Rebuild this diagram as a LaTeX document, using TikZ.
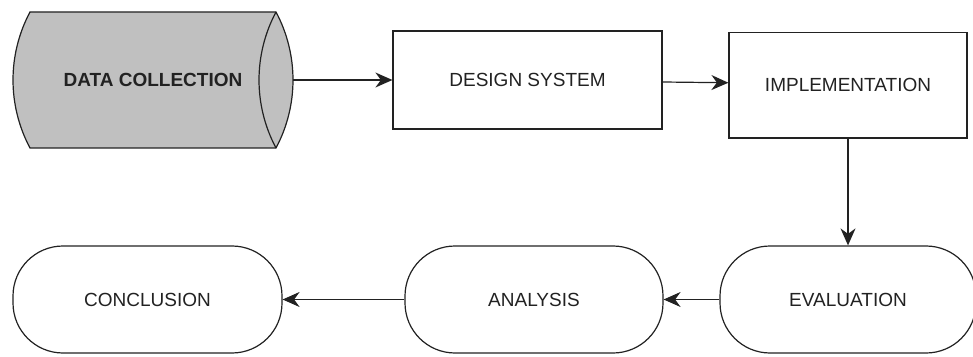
\documentclass[tikz,border=0pt]{standalone}
\usepackage{fontspec}
\setmainfont{Liberation Sans}
\usetikzlibrary{arrows.meta,calc}
\definecolor{linec}{HTML}{222222}
\definecolor{cylfill}{HTML}{C0C0C0}
\begin{document}
\begin{tikzpicture}[x=1pt,y=1pt,
  every node/.style={font=\fontsize{19}{23}\selectfont, text=linec},
  boxnode/.style={draw=linec, line width=1.2pt, fill=white, rectangle, inner sep=0pt},
  termnode/.style={draw=linec, line width=1.2pt, fill=white, rectangle, rounded corners=50pt, inner sep=0pt, minimum height=107pt},
  conn/.style={draw=linec, line width=1.2pt, -{Stealth[length=17pt,width=15pt,inset=5.5pt]}}
]
\useasboundingbox (0,0) rectangle (973,356);
% data collection cylinder
\node[inner sep=0pt, minimum width=280pt, minimum height=136pt, font=\fontsize{19}{23}\selectfont\bfseries] (dc) at (153,276) {};
\draw[draw=linec, line width=1.2pt, fill=cylfill]
  (30,344) -- (276,344) arc[start angle=28.07, end angle=-28.07, radius=144.5pt]
  -- (30,208) arc[start angle=208.07, end angle=151.93, radius=144.5pt] -- cycle;
\draw[draw=linec, line width=1.2pt]
  (276,344) arc[start angle=151.93, end angle=208.07, radius=144.5pt];
\node[inner sep=0pt, font=\fontsize{19}{23}\selectfont\bfseries] (dctext) at (dc.center) {DATA COLLECTION};
% boxes
\node[boxnode, minimum width=269pt, minimum height=98pt] (ds) at (527.5,276) {DESIGN SYSTEM};
\node[boxnode, minimum width=238pt, minimum height=105.5pt] (impl) at (848,270.75) {IMPLEMENTATION};
% terminals
\node[termnode, minimum width=256pt] (eval) at (848,56.5) {EVALUATION};
\node[termnode, minimum width=258pt] (ana) at (534,56.5) {ANALYSIS};
\node[termnode, minimum width=269pt] (conc) at (147.5,56.5) {CONCLUSION};
% connectors
\draw[conn] (dc.east) -- (ds.west);
\draw[conn] ($(ds.east)+(0,-2)$) -- ($(impl.west)+(0,2.5)$);
\draw[conn] (impl.south) -- (eval.north);
\draw[conn] (eval.west) -- (ana.east);
\draw[conn] (ana.west) -- (conc.east);
\end{tikzpicture}
\end{document}
